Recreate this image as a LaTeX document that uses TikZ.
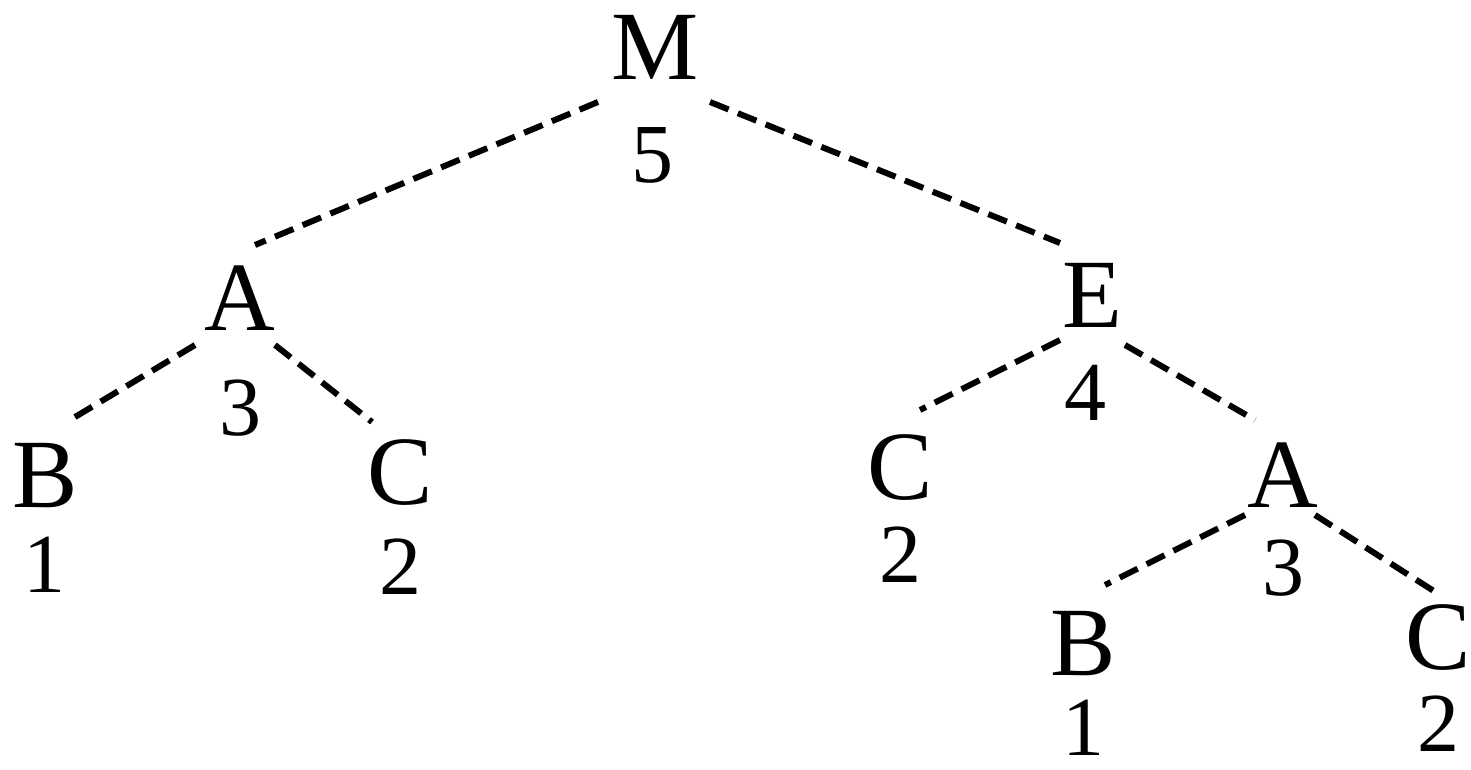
\documentclass[tikz,border=0pt]{standalone}
\usepackage{fontspec}
\setmainfont{Liberation Serif}
\begin{document}
\begin{tikzpicture}[x=0.5pt,y=-0.5pt,
  letter/.style={inner sep=0pt,font=\fontsize{49}{49}\selectfont},
  num/.style={inner sep=0pt,font=\fontsize{42}{42}\selectfont},
  edge/.style={line width=3pt,dash pattern=on 10pt off 5pt}]
\useasboundingbox (0,0) rectangle (1471,770);
% letters
\node[letter] (M)  at (655,47)  {M};
\node[letter] (A)  at (240,298) {A};
\node[letter] (B)  at (45,476)  {B};
\node[letter] (C)  at (400,473) {C};
\node[letter] (E)  at (1092,295) {E};
\node[letter] (C1) at (900,468) {C};
\node[letter] (A2) at (1283,475) {A};
\node[letter] (B2) at (1083,644) {B};
\node[letter] (C2) at (1438,638) {C};
% numbers
\node[num] (nM)  at (652,155) {5};
\node[num] (nA)  at (240,408) {3};
\node[num] (nB)  at (45,565)  {1};
\node[num] (nC)  at (400,567) {2};
\node[num] (nE)  at (1085,393) {4};
\node[num] (nC1) at (900,555) {2};
\node[num] (nA2) at (1283,568) {3};
\node[num] (nB2) at (1083,728) {1};
\node[num] (nC2) at (1438,724) {2};
% edges
\draw[edge] ([shift={(-57,55)}]M.center) -- ([shift={(15,-53)}]A.center);
\draw[edge] ([shift={(55,55)}]M.center) -- ([shift={(-32,-52)}]E.center);
\draw[edge] ([shift={(-45,47)}]A.center) -- ([shift={(25,-56)}]B.center);
\draw[edge] ([shift={(35,47)}]A.center) -- ([shift={(-28,-51)}]C.center);
\draw[edge] ([shift={(-32,45)}]E.center) -- ([shift={(20,-58)}]C1.center);
\draw[edge] ([shift={(33,50)}]E.center) -- ([shift={(-28,-55)}]A2.center);
\draw[edge] ([shift={(-38,40)}]A2.center) -- ([shift={(22,-59)}]B2.center);
\draw[edge] ([shift={(32,40)}]A2.center) -- ([shift={(2,-43)}]C2.center);
\end{tikzpicture}
\end{document}
